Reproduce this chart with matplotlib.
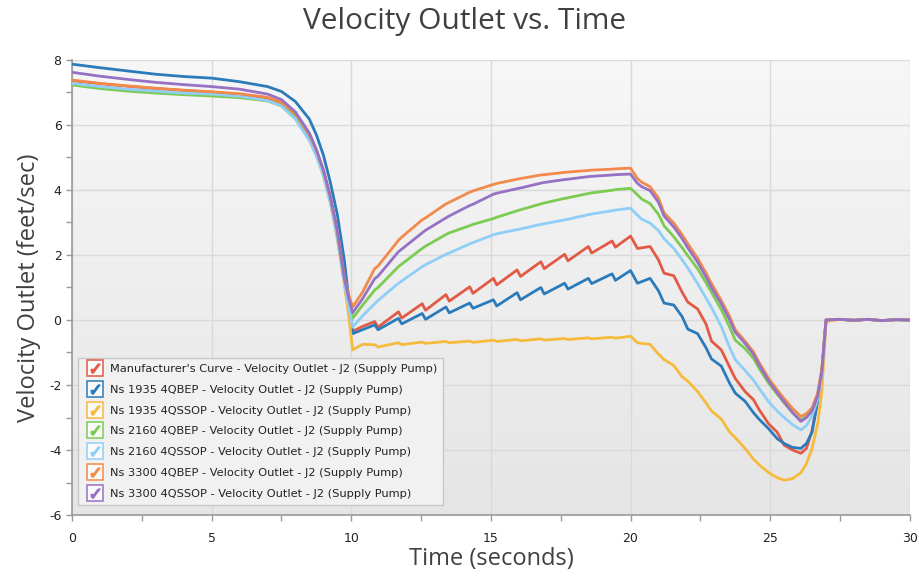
import numpy as np
import matplotlib
matplotlib.use("Agg")
import matplotlib.pyplot as plt
from matplotlib.lines import Line2D
from matplotlib.legend_handler import HandlerTuple
from matplotlib.colors import LinearSegmentedColormap

plt.rcParams["axes.unicode_minus"] = False

# time axis (seconds)
time_s = [0, 1, 2, 3, 4, 5, 6, 7, 7.5, 8, 8.5, 8.75, 9, 9.25, 9.5, 9.75, 9.9, 10.05,
          10.4, 10.84, 10.96, 11.69, 11.81, 12.54, 12.66, 13.39, 13.51, 14.24, 14.36,
          15.09, 15.21, 15.94, 16.06, 16.79, 16.91, 17.64, 17.76, 18.49, 18.61, 19.34,
          19.46, 20.0,
          20.25, 20.4, 20.7, 21.0, 21.2, 21.55, 21.85, 22.05, 22.4, 22.7, 22.9, 23.25,
          23.55, 23.75, 24.1, 24.4, 24.6, 24.95, 25.25, 25.5, 25.8, 26.1, 26.3, 26.5,
          26.7, 26.85, 27.0, 27.5, 28, 28.5, 29, 29.5, 30]

manufacturer = [7.36, 7.27, 7.19, 7.12, 7.06, 7.01, 6.94, 6.83, 6.68, 6.33, 5.68, 5.20, 4.60, 3.78, 2.72, 1.20, 0.45, -0.35,
                -0.20, -0.05, -0.22, 0.25, 0.06, 0.50, 0.30, 0.78, 0.58, 1.02, 0.82,
                1.28, 1.08, 1.54, 1.34, 1.79, 1.58, 2.02, 1.82, 2.26, 2.06, 2.43,
                2.24, 2.58,
                2.20, 2.22, 2.26, 1.85, 1.44, 1.36, 0.85, 0.55, 0.34, -0.12, -0.65, -0.92,
                -1.45, -1.80, -2.20, -2.45, -2.75, -3.20, -3.45, -3.85, -4.00, -4.10, -3.95, -3.40,
                -2.45, -1.60, 0.00, 0.02, -0.01, 0.02, -0.02, 0.01, 0.00]

ns1935_qbep = [7.87, 7.76, 7.66, 7.56, 7.49, 7.44, 7.33, 7.18, 7.03, 6.72, 6.18, 5.70, 5.08, 4.24, 3.25, 1.85, 0.75, -0.42,
               -0.30, -0.15, -0.30, 0.05, -0.12, 0.20, 0.02, 0.40, 0.22, 0.52, 0.36,
               0.62, 0.43, 0.84, 0.62, 1.00, 0.80, 1.13, 0.95, 1.28, 1.12, 1.42,
               1.22, 1.52,
               1.13, 1.18, 1.28, 0.90, 0.52, 0.46, 0.10, -0.28, -0.42, -0.85, -1.20, -1.42,
               -1.95, -2.25, -2.50, -2.85, -3.05, -3.35, -3.65, -3.80, -3.92, -3.95, -3.80, -3.45,
               -2.50, -1.60, 0.00, 0.02, -0.01, 0.02, -0.02, 0.01, 0.00]

ns1935_qssop = [7.26, 7.16, 7.08, 7.02, 6.97, 6.93, 6.86, 6.74, 6.58, 6.20, 5.55, 5.06, 4.45, 3.60, 2.50, 1.10, 0.20, -0.92,
                -0.75, -0.76, -0.83, -0.70, -0.76, -0.68, -0.72, -0.66, -0.70, -0.65, -0.69,
                -0.62, -0.66, -0.60, -0.64, -0.58, -0.62, -0.57, -0.60, -0.55, -0.58, -0.53,
                -0.56, -0.50,
                -0.70, -0.72, -0.75, -1.05, -1.22, -1.40, -1.75, -1.88, -2.20, -2.55, -2.80, -3.05,
                -3.45, -3.62, -3.95, -4.28, -4.45, -4.70, -4.85, -4.93, -4.88, -4.70, -4.42, -3.95,
                -3.20, -2.20, -0.05, 0.02, -0.01, 0.02, -0.02, 0.01, 0.00]

ns2160_qbep = [7.23, 7.12, 7.04, 6.98, 6.93, 6.89, 6.84, 6.74, 6.60, 6.25, 5.60, 5.12, 4.52, 3.70, 2.65, 1.25, 0.60, 0.05,
               0.45, 0.92, 1.00, 1.64, 1.72, 2.20, 2.27, 2.63, 2.68, 2.90, 2.94,
               3.12, 3.16, 3.36, 3.39, 3.57, 3.60, 3.74, 3.76, 3.89, 3.91, 3.99,
               4.01, 4.05,
               3.85, 3.72, 3.58, 3.25, 2.90, 2.56, 2.22, 1.98, 1.58, 1.15, 0.85, 0.32,
               -0.22, -0.62, -0.88, -1.18, -1.48, -1.95, -2.28, -2.55, -2.85, -3.08, -2.98, -2.78,
               -2.30, -1.55, 0.00, 0.02, -0.01, 0.02, -0.02, 0.01, 0.00]

ns2160_qssop = [7.28, 7.18, 7.10, 7.04, 6.98, 6.95, 6.88, 6.75, 6.58, 6.18, 5.52, 5.05, 4.45, 3.62, 2.55, 1.15, 0.45, -0.22,
                0.12, 0.50, 0.60, 1.13, 1.20, 1.64, 1.70, 2.02, 2.06, 2.34, 2.38,
                2.62, 2.65, 2.78, 2.80, 2.94, 2.96, 3.08, 3.10, 3.24, 3.26, 3.36,
                3.38, 3.44,
                3.22, 3.10, 2.98, 2.75, 2.50, 2.20, 1.85, 1.60, 1.12, 0.68, 0.38, -0.20,
                -0.85, -1.22, -1.55, -1.85, -2.10, -2.52, -2.80, -3.00, -3.22, -3.38, -3.25, -2.95,
                -2.45, -1.65, 0.00, 0.02, -0.01, 0.02, -0.02, 0.01, 0.00]

ns3300_qbep = [7.38, 7.28, 7.20, 7.13, 7.07, 7.02, 6.96, 6.85, 6.70, 6.35, 5.70, 5.22, 4.62, 3.80, 2.75, 1.35, 0.80, 0.40,
               0.85, 1.58, 1.66, 2.45, 2.55, 3.08, 3.14, 3.57, 3.62, 3.93, 3.97,
               4.17, 4.20, 4.33, 4.35, 4.46, 4.47, 4.54, 4.55, 4.60, 4.61, 4.64,
               4.65, 4.67,
               4.35, 4.24, 4.10, 3.75, 3.30, 2.98, 2.62, 2.35, 1.90, 1.45, 1.12, 0.60,
               0.10, -0.30, -0.65, -0.98, -1.30, -1.80, -2.15, -2.42, -2.72, -2.97, -2.88, -2.70,
               -2.25, -1.50, 0.00, 0.02, -0.01, 0.02, -0.02, 0.01, 0.00]

ns3300_qssop = [7.62, 7.50, 7.40, 7.31, 7.24, 7.18, 7.10, 6.95, 6.78, 6.40, 5.75, 5.25, 4.62, 3.80, 2.75, 1.30, 0.70, 0.22,
                0.65, 1.27, 1.35, 2.10, 2.18, 2.68, 2.76, 3.14, 3.20, 3.52, 3.56,
                3.87, 3.90, 4.04, 4.06, 4.21, 4.23, 4.32, 4.33, 4.41, 4.42, 4.46,
                4.47, 4.49,
                4.20, 4.10, 3.98, 3.62, 3.20, 2.86, 2.50, 2.22, 1.78, 1.33, 1.00, 0.50,
                0.00, -0.38, -0.72, -1.05, -1.38, -1.88, -2.24, -2.52, -2.85, -3.12, -3.00, -2.80,
                -2.35, -1.60, 0.00, 0.02, -0.01, 0.02, -0.02, 0.01, 0.00]

series_labels = [
    "Manufacturer's Curve - Velocity Outlet - J2 (Supply Pump)",
    "Ns 1935 4QBEP - Velocity Outlet - J2 (Supply Pump)",
    "Ns 1935 4QSSOP - Velocity Outlet - J2 (Supply Pump)",
    "Ns 2160 4QBEP - Velocity Outlet - J2 (Supply Pump)",
    "Ns 2160 4QSSOP - Velocity Outlet - J2 (Supply Pump)",
    "Ns 3300 4QBEP - Velocity Outlet - J2 (Supply Pump)",
    "Ns 3300 4QSSOP - Velocity Outlet - J2 (Supply Pump)",
]
series_values = [manufacturer, ns1935_qbep, ns1935_qssop, ns2160_qbep,
                 ns2160_qssop, ns3300_qbep, ns3300_qssop]
colors = ["#e25a45", "#2b7bba", "#f6ba3d", "#7ccb52", "#8fcff7", "#f28a4b", "#9671c4"]

fig = plt.figure(figsize=(9.19, 5.79), dpi=100)
ax = fig.add_axes([0.0783, 0.1105, 0.9117, 0.786])

# light gray gradient background
bg = LinearSegmentedColormap.from_list("bg", ["#f7f7f7", "#e5e5e5"])
ax.imshow(np.linspace(0, 1, 256).reshape(-1, 1), cmap=bg, aspect="auto",
          extent=(0, 30, -6, 8), zorder=0)
ax.patch.set_facecolor("none")

for vals, col in zip(series_values, colors):
    ax.plot(time_s, vals, color=col, lw=2.0, zorder=3, solid_joinstyle="round")

ax.set_xlim(0, 30)
ax.set_ylim(-6, 8)
ax.set_xticks([0, 5, 10, 15, 20, 25, 30])
ax.set_xticks([2.5, 7.5, 12.5, 17.5, 22.5, 27.5], minor=True)
ax.set_yticks([-6, -4, -2, 0, 2, 4, 6, 8])
ax.set_yticks([-5, -3, -1, 1, 3, 5, 7], minor=True)
ax.grid(True, which="major", color="#d9d9d9", lw=1.0)
ax.set_axisbelow(True)
ax.tick_params(which="both", direction="out", length=4, width=1, color="#999999",
               labelsize=9, labelcolor="#222222")
ax.tick_params(axis="x", pad=8)

for side in ["top", "right"]:
    ax.spines[side].set_visible(False)
for side in ["left", "bottom"]:
    ax.spines[side].set_color("#999999")
    ax.spines[side].set_linewidth(1.2)

fig.text(0.505, 0.963, "Velocity Outlet vs. Time", fontsize=21.5, color="#404040",
         family="Open Sans", ha="center", va="center")
ax.set_xlabel("Time (seconds)", fontsize=17, color="#404040", family="Open Sans", labelpad=2)
ax.set_ylabel("Velocity Outlet (feet/sec)", fontsize=17, color="#404040",
              family="Open Sans", labelpad=6)

# check-box style legend handles
handles = []
for col in colors:
    box = Line2D([], [], marker="s", ms=12, mfc="#fafafa", mec=col, mew=1.1, ls="none")
    tick = Line2D([], [], marker=r"$\checkmark$", ms=6.5, color=col, ls="none")
    handles.append((box, tick))
leg = ax.legend(handles, series_labels, handler_map={tuple: HandlerTuple(ndivide=1)},
                loc="upper left", bbox_to_anchor=(0.007, 0.345), fontsize=8.2,
                frameon=True, fancybox=False, framealpha=1, facecolor="#f1f1f1",
                edgecolor="#c8c8c8", labelspacing=0.94, handlelength=2.0,
                handletextpad=0.25, borderpad=0.55, borderaxespad=0)
leg.set_zorder(5)
for txt in leg.get_texts():
    txt.set_color("#222222")

fig.savefig("out.png", dpi=100)
